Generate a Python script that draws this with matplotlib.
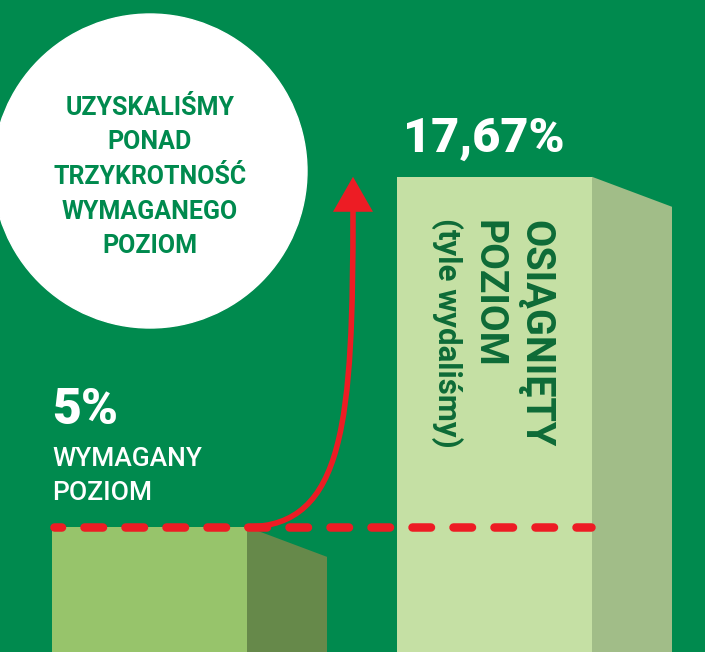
import matplotlib
matplotlib.use('Agg')
import matplotlib.pyplot as plt
from matplotlib.patches import Circle, Polygon, PathPatch
from matplotlib.path import Path

##########################
labels = ['WYMAGANY\nPOZIOM', 'OSIĄGNIĘTY\nPOZIOM']
values = [5.0, 17.67]          # % poziomu
value_txt = ['5%', '17,67%']
circle_lines = ['UZYSKALIŚMY', 'PONAD', 'TRZYKROTNOŚĆ', 'WYMAGANEGO', 'POZIOM']
sub_txt = '(tyle wydaliśmy)'

bg_col = '#008a4e'
front_col = ['#97c46b', '#c5e0a4']
side_col = ['#66894a', '#a1bd88']
red = '#ed1c24'
dark_green = '#0d6b37'
plt.rcParams['font.family'] = ['Roboto', 'DejaVu Sans']
#######################
W, H = 705, 652
BASE = 665.0     # pixel row of value 0 (just below the picture)
SCALE = 27.63    # pixels per 1 %

fig = plt.figure(figsize=(W/100., H/100.), dpi=100, facecolor=bg_col)
ax = fig.add_axes([0, 0, 1, 1])      # value coords for the bars
ax.set_xlim(0, W)
ax.set_ylim((BASE - H)/SCALE, BASE/SCALE)
ax.axis('off')
ax.patch.set_alpha(0)

bg = fig.add_axes([0, 0, 1, 1])      # pixel coords for circle + texts, on top
bg.set_xlim(0, W)
bg.set_ylim(H, 0)
bg.axis('off')
bg.patch.set_alpha(0)

################ bars (front + 3d side)
bar_x = [149.5, 494.5]
bar_w = 195
depth = 80
drop = 30/SCALE
ax.bar(bar_x, values, width=bar_w, bottom=0, color=front_col, zorder=2)
for i in range(len(values)):
    x1 = bar_x[i] + bar_w/2.
    side = Polygon([(x1, 0), (x1, values[i]), (x1+depth, values[i]-drop), (x1+depth, 0)],
                   closed=True, color=side_col[i], zorder=2, lw=0)
    ax.add_patch(side)

# required level dashed line
lw_px = 8.5
ax.plot([54, 591], [values[0], values[0]], color=red, lw=lw_px*0.72,
        linestyle=(11/lw_px, (18.5/lw_px, 22.5/lw_px)), dash_capstyle='round', zorder=3)

# red arrow from required level up to achieved level
ax_x0 = bar_x[0] + bar_w/2.
ax_x1 = 353
head_len = 35/SCALE
p = Path([(ax_x0, values[0]), (345, values[0]), (ax_x1, (BASE-420)/SCALE), (ax_x1, values[1]-head_len+0.1)],
         [Path.MOVETO, Path.CURVE4, Path.CURVE4, Path.CURVE4])
ax.add_patch(PathPatch(p, fill=False, edgecolor=red, lw=4, capstyle='round', zorder=4))
ax.add_patch(Polygon([(ax_x1-20, values[1]-head_len), (ax_x1+20, values[1]-head_len), (ax_x1, values[1])],
                     closed=True, color=red, lw=0, zorder=4))

################ circle
bg.add_patch(Circle((150, 171), 157, color='white', zorder=1))
base_rows = [115, 149, 184, 219, 253]
for i in range(len(circle_lines)):
    bg.text(150, base_rows[i], circle_lines[i], color=bg_col, fontsize=18, fontweight='bold',
            ha='center', va='baseline', zorder=5)

################ value labels
bg.text(52, 424, value_txt[0], color='white', fontsize=36, fontweight='heavy', ha='left', va='baseline')
bg.text(403, 152, value_txt[1], color='white', fontsize=35, fontweight='heavy', ha='left', va='baseline')
l1 = labels[0].split('\n')
bg.text(52, 466, l1[0], color='white', fontsize=19, fontweight='medium', ha='left', va='baseline')
bg.text(52, 500, l1[1], color='white', fontsize=19, fontweight='medium', ha='left', va='baseline')

# rotated text on big bar
l2 = labels[1].split('\n')
bg.text(524, 220, l2[0], color=dark_green, fontsize=28.5, fontweight='bold', rotation=-90,
        rotation_mode='anchor', ha='left', va='baseline', zorder=5)
bg.text(478, 220, l2[1], color=dark_green, fontsize=28, fontweight='bold', rotation=-90,
        rotation_mode='anchor', ha='left', va='baseline', zorder=5)
bg.text(438, 218, sub_txt, color=dark_green, fontsize=22.5, fontweight='semibold', rotation=-90,
        rotation_mode='anchor', ha='left', va='baseline', zorder=5)

plt.savefig('out.png', dpi=100, facecolor=bg_col)
